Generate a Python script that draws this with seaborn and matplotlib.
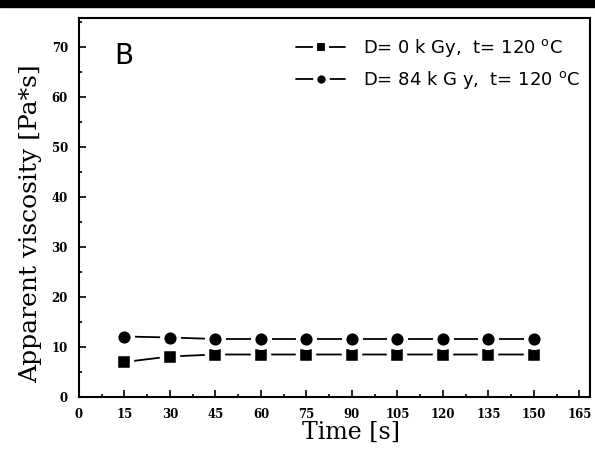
import matplotlib
matplotlib.use("Agg")
import matplotlib.pyplot as plt
import seaborn as sns
import pandas as pd
from matplotlib.patches import Rectangle
from matplotlib.ticker import MultipleLocator

time_s = [15, 30, 45, 60, 75, 90, 105, 120, 135, 150]
visc_0kGy = [7.0, 8.1, 8.5, 8.5, 8.5, 8.5, 8.5, 8.5, 8.5, 8.5]
visc_84kGy = [12.1, 11.9, 11.6, 11.6, 11.6, 11.6, 11.6, 11.6, 11.6, 11.6]
labels = ["D= 0 k Gy,  t= 120 $^{\\rm o}$C", "D= 84 k G y,  t= 120 $^{\\rm o}$C"]
xticks = [0, 15, 30, 45, 60, 75, 90, 105, 120, 135, 150, 165]
yticks = [0, 10, 20, 30, 40, 50, 60, 70]

sns.set_style("white")
plt.rcParams["font.family"] = ["DejaVu Sans"]
plt.rcParams["mathtext.default"] = "regular"
plt.rcParams["text.color"] = "black"
plt.rcParams["axes.labelcolor"] = "black"
plt.rcParams["xtick.color"] = "black"
plt.rcParams["ytick.color"] = "black"

fig = plt.figure(figsize=(5.95, 4.54), dpi=100)
ax = fig.add_axes([79/595, 1-397/454, 511/595, 379/454])

df0 = pd.DataFrame({"t": time_s, "v": visc_0kGy})
df1 = pd.DataFrame({"t": time_s, "v": visc_84kGy})
sns.lineplot(data=df0, x="t", y="v", ax=ax, color="black", lw=1.3,
             marker="s", markersize=11, markeredgecolor="white", markeredgewidth=3.2,
             label=labels[0])
sns.lineplot(data=df1, x="t", y="v", ax=ax, color="black", lw=1.3,
             marker="o", markersize=12, markeredgecolor="white", markeredgewidth=3.2,
             label=labels[1])

ax.set_xlim(0, 168.5)
ax.set_ylim(0, 75.8)
ax.set_xticks(xticks)
ax.set_yticks(yticks)
ax.xaxis.set_minor_locator(MultipleLocator(7.5))
ax.yaxis.set_minor_locator(MultipleLocator(5))
ax.tick_params(which="major", direction="in", length=5, width=1.2,
               bottom=True, left=True, top=False, right=False, pad=8)
ax.tick_params(which="minor", direction="in", length=2.5, width=1.2,
               bottom=True, left=True, top=False, right=False)
for lab in ax.get_xticklabels() + ax.get_yticklabels():
    lab.set_fontfamily("DejaVu Serif")
    lab.set_fontweight("bold")
    lab.set_fontsize(8.5)
for s in ax.spines.values():
    s.set_visible(True)
    s.set_color("black")
    s.set_linewidth(1.5)

ax.set_xlabel("Time [s]", fontfamily="DejaVu Serif", fontsize=17)
ax.set_ylabel("Apparent viscosity [Pa*s]", fontfamily="DejaVu Serif", fontsize=18)
ax.xaxis.set_label_coords(0.532, -0.063)
ax.yaxis.set_label_coords(-0.072, 0.458)

ax.text(0.088, 0.90, "B", transform=ax.transAxes, fontsize=20,
        fontfamily="DejaVu Sans", va="center", ha="center")

leg = ax.legend(loc="upper right", bbox_to_anchor=(1.012, 0.992), frameon=False,
                fontsize=13, handlelength=2.7, handletextpad=1.0, labelspacing=0.55)
for h in leg.legend_handles:
    h.set_markersize(9)
    h.set_markeredgewidth(3)
    h.set_markeredgecolor("white")

fig.add_artist(Rectangle((0, 1-7/454), 1, 7/454, transform=fig.transFigure,
                         color="black", zorder=10))

fig.savefig("out.png", dpi=100)
